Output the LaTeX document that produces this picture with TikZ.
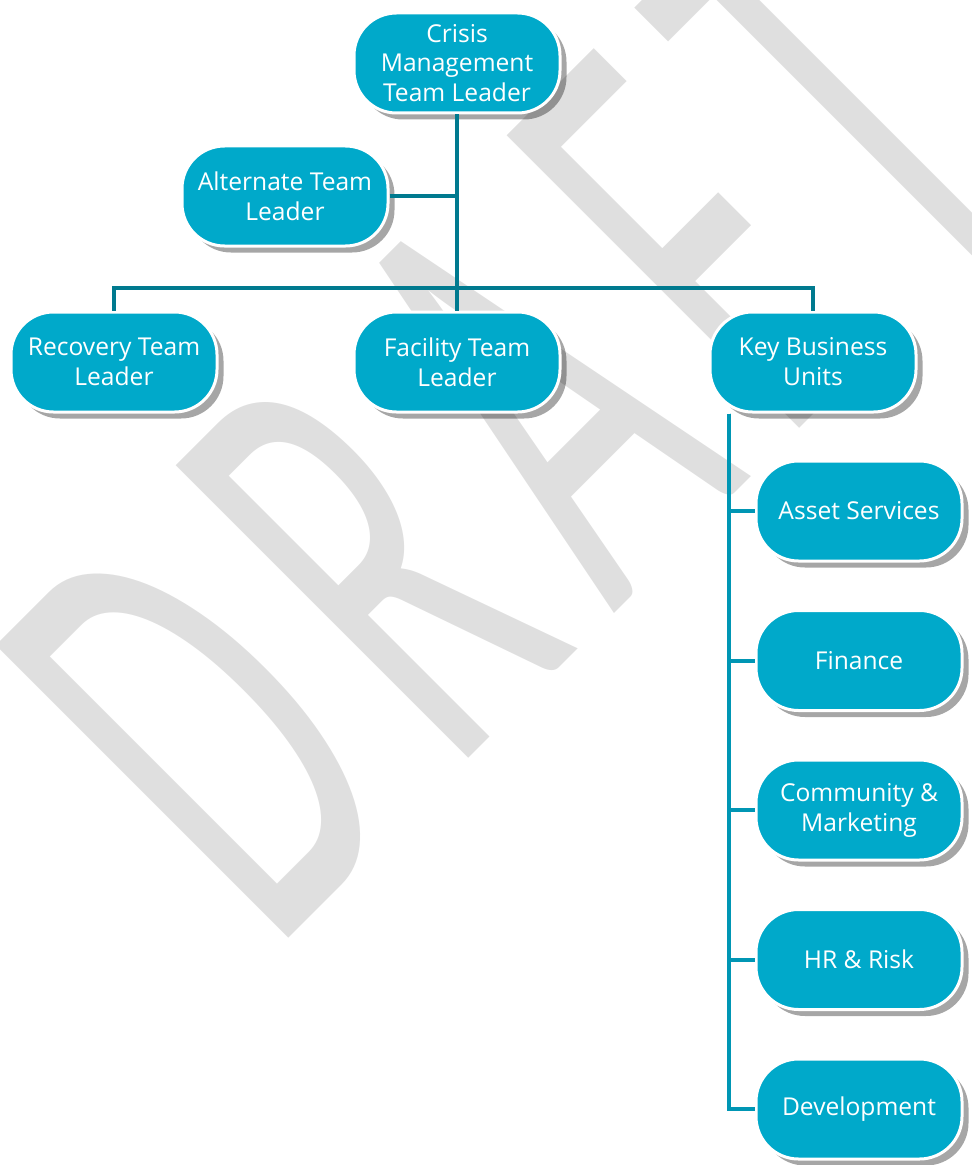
\documentclass[tikz,border=0pt]{standalone}
\usepackage{fontspec}
\setmainfont{Open Sans}
\newfontfamily\wmfont{Carlito}
\usepackage{tikz}
\usetikzlibrary{
    positioning,      % For relative node placement (below=of ...)
    shadows           % For drop shadows
}
\definecolor{boxcyan}{RGB}{0,169,202}
\definecolor{linkteal}{RGB}{0,122,143}
\definecolor{spineteal}{RGB}{0,150,180}
\definecolor{wmgray}{RGB}{223,223,223}
\tikzset{
  % Style for the role boxes
  unit/.style={
    rectangle, draw=white, line width=0.06cm, fill=boxcyan, rounded corners=0.85cm,
    minimum width=4.12cm, minimum height=2cm, inner sep=1pt,
    align=center, text=white,
    drop shadow={shadow xshift=0.13cm, shadow yshift=-0.13cm, fill=black, opacity=0.35}
  },
  % Style for the tree connectors
  link/.style={
    draw=linkteal, line width=0.08cm
  },
  % Style for the business unit connectors
  sublink/.style={
    draw=spineteal, line width=0.08cm
  },
  % Style for the watermark
  watermark/.style={
    text=wmgray, font=\wmfont\fontsize{100}{100}\selectfont\addfontfeature{LetterSpace=13},
    inner sep=0pt, anchor=base west, rotate=45, xscale=1.93, yscale=3.67
  }
}

\begin{document}
\begin{tikzpicture}[
        node distance=1cm and 3cm,
        font=\fontsize{14}{17}\selectfont
    ]
        \useasboundingbox (0,0) rectangle (19.44,-23.3);

        \node[watermark] (draft) at (5.45,-19.1) {DRAFT};

        \node[unit] (cml) at (9.14,-1.26) {Crisis\\Management\\Team Leader};
        \node[unit, below=0.6cm of cml, xshift=-3.44cm] (alt) {Alternate Team\\Leader};
        \node[unit, below=3.92cm of cml] (facility) {Facility Team\\Leader};
        \node[unit, left=2.68cm of facility] (recovery) {Recovery Team\\Leader};
        \node[unit, right=2.94cm of facility] (kbu) {Key Business\\Units};

        \node[unit, below=0.92cm of kbu, xshift=0.92cm] (asset) {Asset Services};
        \node[unit, below=0.93cm of asset] (finance) {Finance};
        \node[unit, below=0.93cm of finance] (community) {Community \&\\Marketing};
        \node[unit, below=0.93cm of community] (hrrisk) {HR \& Risk};
        \node[unit, below=0.93cm of hrrisk] (development) {Development};

        \coordinate[above=0.45cm of facility.north] (bus);
        \coordinate[right=0.41cm of kbu.south west] (spine);

        \draw[link] (cml.south) -- (facility.north);
        \draw[link] (alt.east) -- (alt.east -| cml.south);
        \draw[link] (recovery.north) |- (bus) -| (kbu.north);

        \draw[sublink] (spine) |- (development.west);
        \draw[sublink] (spine) |- (asset.west);
        \draw[sublink] (spine) |- (finance.west);
        \draw[sublink] (spine) |- (community.west);
        \draw[sublink] (spine) |- (hrrisk.west);

    \end{tikzpicture}
\end{document}
